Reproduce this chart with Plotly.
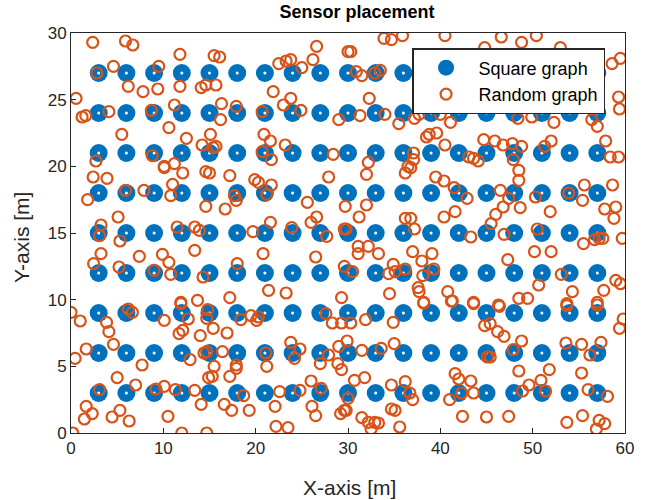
import plotly.graph_objects as go

# Square graph: regular 3 m grid of sensors
grid_x = [3, 6, 9, 12, 15, 18, 21, 24, 27, 30, 33, 36, 39, 42, 45, 48, 51, 54, 57]
grid_y = [3, 6, 9, 12, 15, 18, 21, 24, 27]

# Random graph: sensor positions (x, y) in metres
rand_x = [
    2.35, 5.9, 6.7, 11.8, 4.6, 9.5, 2.8, 6.2, 7.8, 9.4, 11.8, 14.1, 14.6, 0.55, 1.2, 1.6,
    4.1, 8.7, 11.2, 10.6, 5.5, 12.5, 14.2, 15.1, 8.8, 2.7, 10.1, 11.2,
    15.5, 16.1, 26.6, 30.0, 26.2, 22.5, 23.3, 23.8, 25.0, 15.7, 21.9, 23.8, 23.0, 16.3,
    17.9, 16.2, 20.7, 24.9, 29.0, 20.9, 21.6, 15.7, 15.4, 23.2, 20.7, 21.7, 28.4,
    33.9, 34.7, 35.9, 40.5, 30.3, 44.8, 30.9, 31.5, 32.9, 33.5, 32.3, 31.3, 34.0, 35.5,
    37.2, 37.7, 40.0, 41.1, 44.5, 38.5, 38.8, 39.6, 40.5, 44.7, 37.1, 37.1, 32.2, 36.5,
    43.1, 43.6, 44.1,
    46.6, 48.8, 50.4, 53.0, 59.5, 58.6, 59.3, 59.4, 48.4, 49.9, 52.3, 54.9, 56.4, 57.0,
    45.9, 46.8, 47.8, 48.8, 52.0, 51.3, 57.9, 58.4, 59.3, 47.9,
    2.4, 3.9, 10.1, 12.1, 14.6, 11.0, 10.8, 5.9, 7.9, 1.8, 14.6, 5.1, 3.25, 3.1, 5.3,
    11.5, 13.4, 13.9, 3.25, 2.45, 7.4, 9.9, 10.6, 13.4, 5.2, 9.0, 10.8, 14.3, 11.9, 13.7,
    15.0, 17.2, 19.9, 20.3, 21.7, 21.2, 17.7, 17.9, 27.9, 16.7, 25.6, 29.7, 26.6, 26.0,
    21.6, 19.7, 23.9, 27.7, 29.6, 20.8, 26.5, 18.0, 29.6, 21.4, 23.3, 17.2, 29.3,
    32.0, 36.2, 36.8, 39.5, 40.4, 41.5, 42.9, 32.0, 31.2, 36.2, 36.8, 37.2, 40.4, 41.6,
    29.8, 43.3, 31.1, 31.1, 32.2, 33.3, 37.0, 39.1, 38.0, 34.9, 34.4, 35.1, 36.2, 39.3,
    38.1, 30.5, 37.6, 37.7, 34.5, 40.8, 41.3, 43.6, 38.2,
    48.5, 48.5, 46.5, 47.4, 46.8, 46.0, 45.5, 48.65, 50.3, 51.9, 53.9, 55.6, 55.4, 58.65,
    57.8, 59.0, 58.8, 46.9, 50.5, 55.5, 56.7, 57.2, 57.6, 59.7, 50.2, 52.0, 47.3, 53.1,
    59.0, 59.5, 50.65, 57.7, 54.3, 48.5, 49.45, 46.3, 53.7, 57.0,
    0.0, 1.0, 6.2, 6.65, 3.85, 4.1, 10.1, 11.9, 12.7, 14.7, 11.7, 12.1, 14.0, 4.6, 1.65,
    0.45, 7.7, 12.9, 14.4, 14.9, 5.0, 7.0, 3.1, 9.2, 10.1, 11.3, 13.4, 14.1, 1.65, 2.3,
    1.45, 4.45, 5.3, 6.3, 10.5, 0.2, 12.0, 14.7,
    14.8, 18.4, 19.5, 20.3, 20.1, 15.4, 16.9, 27.6, 28.3, 29.3, 14.7, 16.4, 21.1, 21.2,
    23.8, 24.8, 24.2, 27.0, 27.9, 28.9, 29.3, 29.0, 15.5, 15.3, 17.9, 17.9, 17.2, 26.0,
    27.1, 24.8, 22.6, 18.7, 16.6, 17.4, 19.3, 22.1, 26.1, 26.5, 29.2, 29.6, 30.0, 22.2,
    23.5,
    38.2, 41.2, 43.6, 30.3, 31.9, 34.9, 44.8, 29.9, 31.5, 33.6, 35.0, 45.1, 30.7, 31.8,
    34.7, 36.2, 36.7, 37.0, 41.6, 42.0, 43.3, 42.3, 43.6, 41.0, 29.8, 34.7, 35.1, 31.5,
    32.2, 32.9, 33.3, 32.5, 35.6, 42.4, 45.0,
    46.4, 53.7, 57.0, 45.4, 46.2, 46.9, 59.8, 59.4, 48.8, 47.9, 45.4, 53.6, 55.3, 57.4,
    56.2, 48.5, 51.8, 55.3, 49.6, 50.9, 48.9, 51.4, 56.0, 58.1, 47.4, 53.7, 55.4, 57.2,
    57.8, 56.9,
]
rand_y = [
    29.3, 29.4, 29.1, 28.4, 27.5, 27.5, 27.0, 26.0, 25.6, 25.8, 26.0, 25.9, 26.1, 25.1, 23.7, 23.8,
    24.1, 24.2, 24.6, 22.9, 22.4, 22.1, 21.6, 22.4, 20.8, 20.4, 20.0, 20.2,
    28.3, 28.2, 29.0, 28.6, 28.0, 27.7, 27.9, 28.0, 27.4, 26.1, 25.6, 25.1, 24.6, 24.7,
    24.5, 23.5, 24.1, 24.2, 23.5, 22.4, 21.9, 21.5, 21.4, 21.6, 21.1, 20.5, 20.9,
    29.6, 29.5, 29.8, 29.8, 28.6, 28.9, 27.1, 26.8, 27.0, 27.2, 25.1, 23.8, 23.9, 23.2,
    23.6, 23.9, 23.9, 23.3, 24.5, 22.2, 22.4, 22.5, 21.6, 22.0, 21.0, 20.5, 20.3, 20.0,
    20.7, 20.6, 20.4,
    29.7, 29.3, 29.8, 28.9, 28.1, 27.7, 25.2, 24.3, 23.6, 23.7, 23.3, 24.4, 23.5, 23.0,
    21.9, 21.6, 21.7, 21.5, 21.9, 21.5, 21.9, 20.7, 20.7, 20.5,
    19.2, 19.1, 19.9, 19.5, 19.6, 18.65, 17.8, 18.2, 18.2, 17.5, 17.0, 16.2, 15.6, 14.8, 14.4,
    15.45, 15.45, 15.2, 13.45, 12.7, 13.25, 13.4, 12.8, 13.7, 12.45, 12.2, 11.9, 11.7, 9.8, 9.95,
    19.5, 19.3, 19.0, 18.8, 18.6, 17.9, 17.8, 17.45, 19.2, 16.8, 17.3, 17.0, 16.2, 15.8,
    15.8, 15.1, 15.4, 14.75, 15.3, 13.45, 13.2, 12.7, 12.5, 10.7, 10.5, 10.15, 10.15,
    19.4, 19.5, 19.9, 19.2, 18.9, 18.4, 17.6, 17.1, 16.2, 16.1, 16.1, 15.3, 16.2, 16.6,
    15.3, 14.7, 14.0, 13.45, 14.0, 13.45, 13.6, 13.45, 12.9, 12.65, 11.95, 12.1, 12.3, 12.3,
    11.8, 12.1, 10.9, 10.6, 10.45, 10.6, 9.9, 9.8, 9.8,
    19.7, 18.95, 18.2, 17.6, 16.95, 16.4, 15.7, 16.9, 17.7, 16.6, 18.0, 18.6, 17.45, 18.6,
    16.8, 16.95, 16.1, 14.9, 15.3, 14.2, 14.5, 14.6, 14.6, 14.6, 13.6, 13.6, 13.0, 11.9,
    11.45, 11.2, 11.1, 10.7, 10.6, 10.1, 10.1, 9.6, 9.7, 9.8,
    9.05, 8.4, 9.3, 9.05, 8.3, 7.6, 8.45, 9.7, 8.55, 8.6, 7.45, 7.7, 7.3, 6.65, 6.3,
    5.6, 5.1, 5.5, 6.0, 4.15, 4.15, 3.6, 3.25, 3.3, 3.5, 3.25, 3.2, 2.15, 2.0, 1.45,
    1.05, 1.2, 1.7, 0.9, 1.25, 0.0, 0.0, 0.0,
    9.25, 8.5, 8.8, 8.7, 8.45, 7.85, 7.5, 8.95, 8.25, 8.25, 6.1, 6.1, 6.0, 5.0,
    6.8, 6.3, 5.6, 5.2, 5.85, 5.2, 4.75, 6.5, 5.0, 4.25, 5.1, 4.85, 4.25, 3.9,
    3.35, 3.2, 3.1, 2.8, 2.15, 1.7, 1.7, 2.0, 2.0, 1.3, 1.45, 1.7, 2.6, 0.5,
    0.4,
    9.75, 9.9, 9.7, 8.25, 8.5, 8.3, 8.05, 6.9, 6.2, 6.35, 6.7, 5.7, 3.95, 4.15,
    3.6, 3.85, 3.0, 2.5, 4.45, 4.05, 3.9, 3.0, 3.0, 2.5, 1.7, 1.8, 1.7, 1.15,
    0.8, 0.8, 0.75, 0.3, 0.45, 1.25, 1.2,
    9.5, 9.55, 9.6, 8.2, 7.6, 7.25, 8.55, 7.85, 6.9, 6.25, 5.7, 6.75, 6.65, 6.8,
    5.85, 4.65, 4.75, 4.5, 3.6, 3.95, 3.15, 3.15, 3.25, 2.75, 1.25, 0.8, 1.3, 0.95,
    0.7, 0.3,
]
assert len(rand_x) == len(rand_y), (len(rand_x), len(rand_y))

x_ticks = [0, 10, 20, 30, 40, 50, 60]
y_ticks = [0, 5, 10, 15, 20, 25, 30]

sq_x = [gx for gy in grid_y for gx in grid_x]
sq_y = [gy for gy in grid_y for gx in grid_x]

BLUE = "#0072BD"
ORANGE = "#D95319"
AXIS = "#262626"
FONT = "Liberation Sans, Arial, sans-serif"

fig = go.Figure()
fig.add_trace(go.Scatter(
    x=sq_x, y=sq_y, mode="markers", name="Square graph",
    marker=dict(size=18, color=BLUE, line=dict(width=0)),
))
# small white centre dot on each grid marker
fig.add_trace(go.Scatter(
    x=sq_x, y=sq_y, mode="markers", showlegend=False, hoverinfo="skip",
    marker=dict(size=3, color="white", line=dict(width=0)),
))
fig.add_trace(go.Scatter(
    x=rand_x, y=rand_y, mode="markers", name="Random graph",
    marker=dict(size=11, color=ORANGE, symbol="circle-open",
                line=dict(width=2.2, color=ORANGE)),
))

axis_common = dict(
    showgrid=False, zeroline=False, showline=True, linecolor=AXIS, linewidth=1,
    mirror=True, ticks="inside", ticklen=5, tickcolor=AXIS, tickwidth=1,
    tickfont=dict(family=FONT, size=17, color=AXIS), automargin=False,
)

fig.update_layout(
    width=651, height=500,
    margin=dict(l=71, r=26, t=33, b=67),
    paper_bgcolor="white", plot_bgcolor="white",
    title=dict(text="<b>Sensor placement</b>", x=357 / 651, xanchor="center",
               y=1 - 12 / 500, yanchor="middle",
               font=dict(family=FONT, size=18, color="black")),
    xaxis=dict(range=[0, 60], tickvals=x_ticks, **axis_common),
    yaxis=dict(range=[0, 30], tickvals=y_ticks, **axis_common),
    legend=dict(x=0.964, y=0.9625, xanchor="right", yanchor="top",
                bgcolor="white", bordercolor=AXIS, borderwidth=1.5,
                font=dict(family=FONT, size=18, color="black"),
                tracegroupgap=0, itemsizing="trace", itemwidth=55),
    showlegend=True,
)

# axis titles placed in the margins
fig.add_annotation(text="X-axis [m]", xref="paper", yref="paper",
                   x=(349 - 71) / 554, y=0, xanchor="center", yanchor="middle",
                   yshift=-(487 - 433), showarrow=False,
                   font=dict(family=FONT, size=21, color=AXIS))
fig.add_annotation(text="Y-axis [m]", xref="paper", yref="paper",
                   x=0, y=(433 - 238) / 400, xanchor="center", yanchor="middle",
                   xshift=-(71 - 22), textangle=-90, showarrow=False,
                   font=dict(family=FONT, size=21, color=AXIS))

fig.write_html("out.html")
